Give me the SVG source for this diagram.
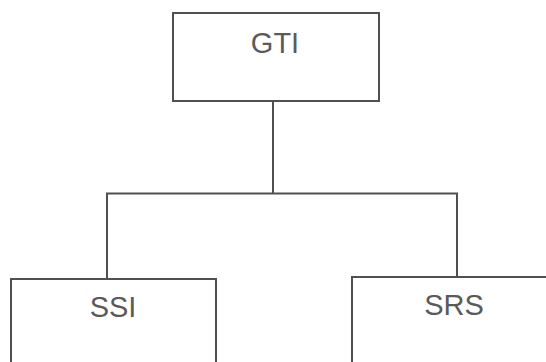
<svg xmlns="http://www.w3.org/2000/svg" width="546" height="362" viewBox="0 0 546 362">
<style>
.box{fill:#fff;stroke:#505050;stroke-width:2}
.conn{fill:none;stroke:#505050;stroke-width:2}
.lbl{font-family:"Liberation Sans",Arial,sans-serif;font-size:29px;fill:#5a5a5a;text-anchor:middle}
</style>
<rect width="546" height="362" fill="#fff"/>
<g id="connectors">
<path class="conn" d="M273,101 V193.5"/>
<path class="conn" d="M107,279 V193.5 H457 V277"/>
</g>
<g id="gti">
<rect class="box" x="173" y="13" width="206" height="88"/>
<text class="lbl" x="275" y="53">GTI</text>
</g>
<g id="ssi">
<rect class="box" x="11" y="279" width="205" height="100"/>
<text class="lbl" x="113" y="317">SSI</text>
</g>
<g id="srs">
<rect class="box" x="352" y="277" width="210" height="100"/>
<text class="lbl" x="454" y="315">SRS</text>
</g>
</svg>
